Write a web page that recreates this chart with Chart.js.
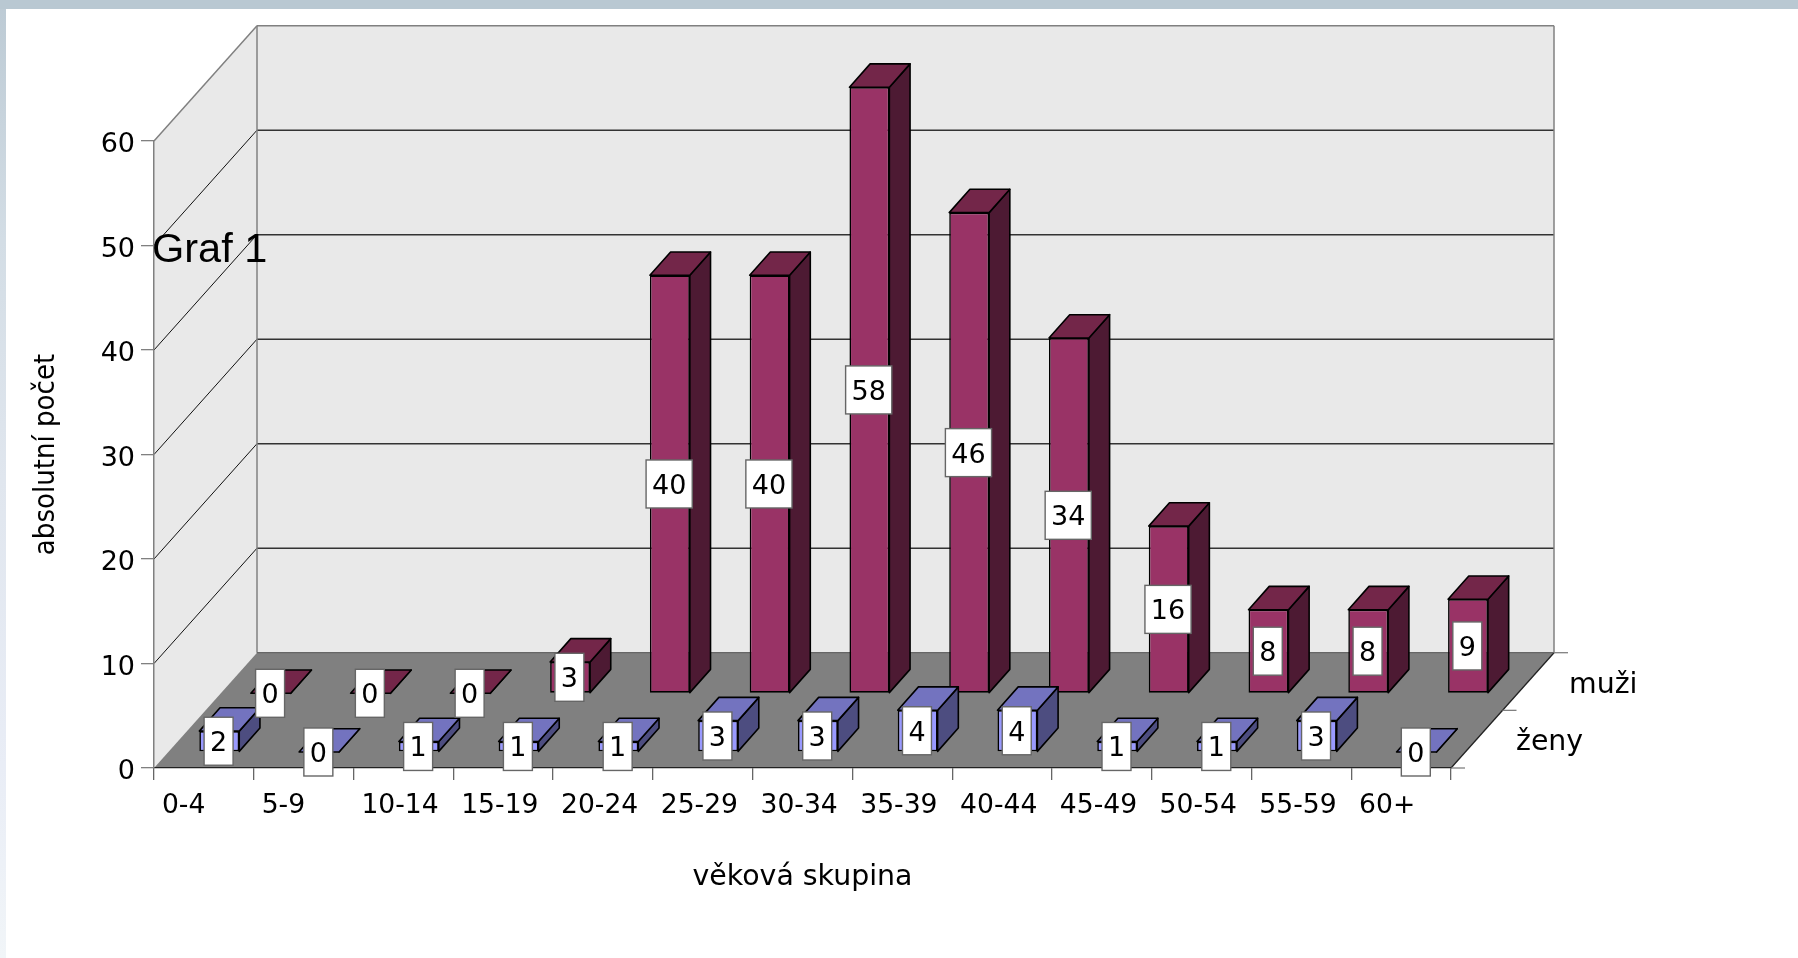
<!DOCTYPE html>
<html lang="cs">
<head>
<meta charset="utf-8">
<title>Graf 1</title>
<script src="https://cdn.jsdelivr.net/npm/chart.js@4"></script>
<style>
  html, body { margin: 0; padding: 0; background: #fff; overflow: hidden; }
  #page { position: relative; width: 1798px; height: 958px; }
  #top { position: absolute; left: 0; top: 0; width: 1798px; height: 9px; background: #b9c8d2; }
  #left { position: absolute; left: 0; top: 0; width: 6px; height: 958px;
    background: linear-gradient(#bccad4, #d3dde5 25%, #e0e6ee 50%, #e9edf6 80%, #f1f5f8); }
  #graf { position: absolute; left: 152px; top: 224px; font: 41.5px "Liberation Sans", Arial, sans-serif; color: #000; line-height: 48px; }
  canvas { position: absolute; left: 0; top: 0; }
</style>
</head>
<body>
<div id="page">
  <div id="left"></div>
  <div id="top"></div>
  <canvas id="myChart" width="1798" height="958"></canvas>
  <div id="graf">Graf 1</div>
</div>
<script>
/*-------------------------
data
--------------------------*/
var categories = ["0-4", "5-9", "10-14", "15-19", "20-24", "25-29", "30-34", "35-39", "40-44", "45-49", "50-54", "55-59", "60+"];
var zeny = [2, 0, 1, 1, 1, 3, 3, 4, 4, 1, 1, 3, 0];
var muzi = [0, 0, 0, 3, 40, 40, 58, 46, 34, 16, 8, 8, 9];
var seriesNames = ["ženy", "muži"];
var yTicks = [0, 10, 20, 30, 40, 50, 60];

/*-------------------------
3d look, the library has no 3d bars so the boxes are shifted here
--------------------------*/
var FONT = '"DejaVu Sans", Verdana, sans-serif';
var depth = { x: 103, y: 115.3 };      // floor depth
var slot = [{ x: 15.4, y: 16 }, { x: 66.9, y: 74.7 }]; // front of the box per series
var box = { x: 20.7, y: 23.3 };        // depth of one box
var faces = [
  { top: "#7373BF", side: "#4D4D80" },
  { top: "#732649", side: "#4D1A33" }
];

function poly(ctx, pts, fill, stroke, lw) {
  ctx.beginPath();
  pts.forEach(function (p, i) {
    if (i === 0) ctx.moveTo(p[0], p[1]); else ctx.lineTo(p[0], p[1]);
  });
  ctx.closePath();
  if (fill) { ctx.fillStyle = fill; ctx.fill(); }
  if (stroke) { ctx.strokeStyle = stroke; ctx.lineWidth = lw || 1; ctx.stroke(); }
}

function line(ctx, x1, y1, x2, y2, color, lw) {
  ctx.beginPath();
  ctx.moveTo(x1, y1);
  ctx.lineTo(x2, y2);
  ctx.strokeStyle = color;
  ctx.lineWidth = lw;
  ctx.stroke();
}

var box3d = {
  id: "box3d",
  afterDatasetsUpdate: function (chart) {
    chart.data.datasets.forEach(function (ds, i) {
      chart.getDatasetMeta(i).data.forEach(function (bar) {
        bar.x += slot[i].x;
        bar.y -= slot[i].y;
        bar.base -= slot[i].y;
      });
    });
  },
  // walls and floor
  beforeDraw: function (chart) {
    var ctx = chart.ctx, a = chart.chartArea, y = chart.scales.y;
    var bx = a.left + depth.x, rx = a.right + depth.x;
    var top = y.getPixelForValue(60), bottom = y.getPixelForValue(0);
    ctx.save();
    poly(ctx, [[a.left, bottom], [bx, bottom - depth.y], [bx, top - depth.y], [a.left, top]], "#E9E9E9");
    poly(ctx, [[bx, bottom - depth.y], [rx, bottom - depth.y], [rx, top - depth.y], [bx, top - depth.y]], "#E9E9E9");
    yTicks.forEach(function (v) {
      var p = y.getPixelForValue(v);
      if (v > 0 && v < 60) {
        line(ctx, a.left, p, bx, p - depth.y, "#111", 1);
        line(ctx, bx, p - depth.y, rx, p - depth.y, "#333", 1.4);
      }
    });
    line(ctx, a.left, top, bx, top - depth.y, "#808080", 1.5);
    line(ctx, bx, top - depth.y, rx, top - depth.y, "#808080", 1.5);
    line(ctx, bx, top - depth.y, bx, bottom - depth.y, "#808080", 1.5);
    line(ctx, rx, top - depth.y, rx, bottom - depth.y, "#808080", 1.5);
    poly(ctx, [[a.left, bottom], [a.right, bottom], [rx, bottom - depth.y], [bx, bottom - depth.y]], "#808080");
    line(ctx, a.right, bottom, rx, bottom - depth.y, "#222", 1.3);
    line(ctx, bx, bottom - depth.y, rx, bottom - depth.y, "#666", 1.3);
    // depth axis ticks
    [0, 0.5, 1].forEach(function (t) {
      var tx = a.right + depth.x * t, ty = bottom - depth.y * t;
      line(ctx, tx, ty, tx + 14, ty, "#808080", 1.3);
    });
    ctx.restore();
  },
  // side and top of each box, the library then paints the front over them
  beforeDatasetDraw: function (chart, args) {
    var ctx = chart.ctx, f = faces[args.index];
    ctx.save();
    ctx.lineJoin = "round";
    args.meta.data.forEach(function (bar) {
      var l = bar.x - bar.width / 2, r = bar.x + bar.width / 2;
      var dx = box.x, dy = box.y;
      poly(ctx, [[r, bar.y], [r + dx, bar.y - dy], [r + dx, bar.base - dy], [r, bar.base]], f.side, "#000", 1.6);
      poly(ctx, [[l, bar.y], [l + dx, bar.y - dy], [r + dx, bar.y - dy], [r, bar.y]], f.top, "#000", 1.6);
    });
    ctx.restore();
  },
  // value boxes and the series names
  afterDatasetsDraw: function (chart) {
    var ctx = chart.ctx, a = chart.chartArea, bottom = chart.scales.y.getPixelForValue(0);
    ctx.save();
    ctx.font = "27px " + FONT;
    ctx.textAlign = "center";
    ctx.textBaseline = "middle";
    for (var i = chart.data.datasets.length - 1; i >= 0; i--) {
      var ds = chart.data.datasets[i];
      chart.getDatasetMeta(i).data.forEach(function (bar, j) {
        var txt = String(ds.data[j]);
        var w = ctx.measureText(txt).width + 11.8, h = 48;
        var cx = bar.x - 0.7, cy = (bar.y + bar.base) / 2;
        ctx.fillStyle = "#fff";
        ctx.fillRect(cx - w / 2, cy - h / 2, w, h);
        ctx.strokeStyle = "#666";
        ctx.lineWidth = 1.4;
        ctx.strokeRect(cx - w / 2, cy - h / 2, w, h);
        ctx.fillStyle = "#000";
        ctx.fillText(txt, cx, cy + 3);
      });
    }
    ctx.font = "28.4px " + FONT;
    ctx.textAlign = "left";
    ctx.textBaseline = "alphabetic";
    ctx.fillText(seriesNames[0], a.right + 65, bottom - 18.5);
    ctx.fillText(seriesNames[1], a.right + 118, bottom - 75.5);
    ctx.restore();
  }
};

/*-------------------------
chart
--------------------------*/
var ctx = document.getElementById("myChart").getContext("2d");
var myChart = new Chart(ctx, {
  type: "bar",
  data: {
    labels: categories,
    datasets: [
      { label: seriesNames[0], data: zeny, backgroundColor: "#9999FF" },
      { label: seriesNames[1], data: muzi, backgroundColor: "#993366" }
    ]
  },
  plugins: [box3d],
  options: {
    responsive: false,
    animation: false,
    layout: { padding: { left: 0, top: 141, right: 347, bottom: 0 } },
    datasets: {
      bar: {
        grouped: false,
        clip: false,
        categoryPercentage: 1,
        barPercentage: 0.4,
        borderColor: "#000",
        borderWidth: 1.6,
        borderSkipped: false
      }
    },
    plugins: {
      legend: { display: false },
      tooltip: { enabled: false }
    },
    scales: {
      x: {
        afterFit: function (s) { s.height = 190; },
        border: { color: "#222", width: 1.3 },
        grid: { offset: true, drawOnChartArea: false, drawTicks: true, tickLength: 12, color: "#666", lineWidth: 1.3 },
        ticks: {
          color: "#000",
          font: { family: FONT, size: 26.6 },
          align: "start",
          labelOffset: -42,
          padding: 10,
          autoSkip: false,
          maxRotation: 0
        },
        title: {
          display: true,
          text: "věková skupina",
          color: "#000",
          font: { family: FONT, size: 28.4 },
          padding: { top: 0, bottom: 63 }
        }
      },
      y: {
        min: 0,
        max: 60,
        afterFit: function (s) { s.width = 154; },
        afterBuildTicks: function (s) {
          s.ticks = yTicks.map(function (v) { return { value: v }; });
        },
        border: { color: "#808080", width: 1.5 },
        grid: { drawOnChartArea: false, drawTicks: true, tickLength: 13, color: "#808080", lineWidth: 1.3 },
        ticks: {
          color: "#000",
          font: { family: FONT, size: 27 },
          labelOffset: 4,
          padding: 6
        },
        title: {
          display: true,
          text: "absolutní počet",
          color: "#000",
          font: { family: '"DejaVu Sans Condensed", "DejaVu Sans", sans-serif', size: 29 },
          padding: { top: 29, bottom: 0 }
        }
      }
    }
  }
});
</script>
</body>
</html>
